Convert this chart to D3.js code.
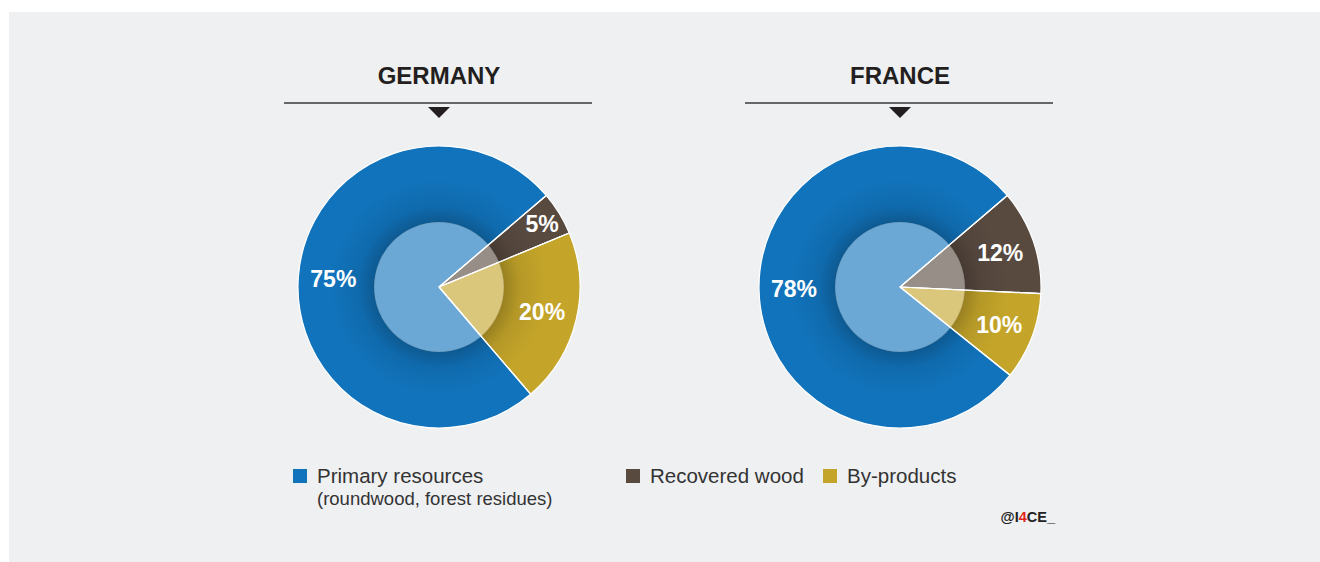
<!DOCTYPE html>
<html>
<head>
<meta charset="utf-8">
<script src="https://cdn.jsdelivr.net/npm/d3@7"></script>
<style>
  body { margin: 0; background: #fff; }
  svg { display: block; font-family: "Liberation Sans", Arial, sans-serif; }
</style>
</head>
<body>
<script>

// data
var countries = ["GERMANY", "FRANCE"];
var categories = ["Recovered wood", "By-products", "Primary resources"];
var germanyValues = [5, 20, 75];
var franceValues = [12, 10, 78];
var legendLabels = ["Primary resources", "Recovered wood", "By-products"];
var legendSub = "(roundwood, forest residues)";

var width = 1320,
    height = 562,
    radius = 141,
    innerRadius = 65;

var color = d3.scaleOrdinal()
    .domain(categories)
    .range(["#594a40", "#c4a52a", "#1173bb"]);

var svg = d3.select("body").append("svg")
    .attr("width", width)
    .attr("height", height);

// gray panel
svg.append("rect")
    .attr("x", 9).attr("y", 12)
    .attr("width", width - 9).attr("height", height - 12)
    .attr("fill", "#eff0f2");

// soft shadow ring around the inner disc
var defs = svg.append("defs");
var grad = defs.append("radialGradient").attr("id", "halo");
grad.append("stop").attr("offset", "0.59").attr("stop-color", "#000").attr("stop-opacity", 0);
grad.append("stop").attr("offset", "0.6").attr("stop-color", "#000").attr("stop-opacity", 0.22);
grad.append("stop").attr("offset", "0.75").attr("stop-color", "#000").attr("stop-opacity", 0.08);
grad.append("stop").attr("offset", "1").attr("stop-color", "#000").attr("stop-opacity", 0);

var x = d3.scalePoint()
    .domain(countries)
    .range([439, 900]);

var pie = d3.pie()
    .sort(null)
    .startAngle(49.5 * Math.PI / 180)
    .endAngle((49.5 + 360) * Math.PI / 180);

var arc = d3.arc()
    .innerRadius(0)
    .outerRadius(radius);

var labelArc = d3.arc()
    .innerRadius(106)
    .outerRadius(106);

var smallLabelArc = d3.arc()
    .innerRadius(121)
    .outerRadius(121);

var datasets = [germanyValues, franceValues];

countries.forEach(function(name, i) {
  var cx = x(name), cy = 287;

  // header
  svg.append("text")
      .attr("x", cx).attr("y", 84)
      .attr("text-anchor", "middle")
      .attr("font-size", 24)
      .attr("font-weight", "bold")
      .attr("fill", "#231f20")
      .text(name);

  svg.append("line")
      .attr("x1", cx - 155).attr("x2", cx + 153)
      .attr("y1", 103).attr("y2", 103)
      .attr("stroke", "#3a3a3a")
      .attr("stroke-width", 1.5);

  svg.append("path")
      .attr("d", "M" + (cx - 11) + ",107L" + (cx + 11) + ",107L" + cx + ",118Z")
      .attr("fill", "#231f20");

  var g = svg.append("g")
      .attr("transform", "translate(" + cx + "," + cy + ")");

  var slices = pie(datasets[i]);

  g.selectAll(".slice")
      .data(slices)
    .enter().append("path")
      .attr("class", "slice")
      .attr("d", arc)
      .attr("fill", function(d, j) { return color(categories[j]); })
      .attr("stroke", "#fff")
      .attr("stroke-width", 1.2)
      .attr("stroke-linejoin", "round");

  g.append("circle")
      .attr("r", 108)
      .attr("fill", "url(#halo)");

  g.append("circle")
      .attr("r", innerRadius)
      .attr("fill", "#fff")
      .attr("fill-opacity", 0.38);

  // separators over the disc
  g.selectAll(".sep")
      .data(slices)
    .enter().append("line")
      .attr("x1", 0).attr("y1", 0)
      .attr("x2", function(d) { return radius * Math.sin(d.startAngle); })
      .attr("y2", function(d) { return -radius * Math.cos(d.startAngle); })
      .attr("stroke", "#fff")
      .attr("stroke-width", 1.2);

  g.selectAll(".lbl")
      .data(slices)
    .enter().append("text")
      .attr("class", "lbl")
      .attr("transform", function(d) {
        var a = d.value < 8 ? smallLabelArc : labelArc;
        return "translate(" + a.centroid(d) + ")";
      })
      .attr("dy", "0.36em")
      .attr("text-anchor", "middle")
      .attr("font-size", 23)
      .attr("font-weight", "bold")
      .attr("fill", "#fff")
      .text(function(d) { return d.value + "%"; });
});

// legend
var legendX = [293, 626, 823];
var legend = svg.selectAll(".legend")
    .data(legendLabels)
  .enter().append("g")
    .attr("class", "legend")
    .attr("transform", function(d, i) { return "translate(" + legendX[i] + ",469)"; });

legend.append("rect")
    .attr("width", 14).attr("height", 14)
    .attr("fill", function(d) { return color(d); });

legend.append("text")
    .attr("x", 24).attr("y", 14)
    .attr("font-size", 20.5)
    .attr("fill", "#333")
    .text(function(d) { return d; });

svg.append("text")
    .attr("x", 317).attr("y", 505)
    .attr("font-size", 18.5)
    .attr("fill", "#333")
    .text(legendSub);

// credit
var credit = svg.append("text")
    .attr("x", 1055).attr("y", 522)
    .attr("text-anchor", "end")
    .attr("font-size", 14.5)
    .attr("font-weight", "bold")
    .attr("fill", "#222");
credit.append("tspan").text("@I");
credit.append("tspan").attr("fill", "#e2231a").text("4");
credit.append("tspan").text("CE_");

</script>
</body>
</html>
